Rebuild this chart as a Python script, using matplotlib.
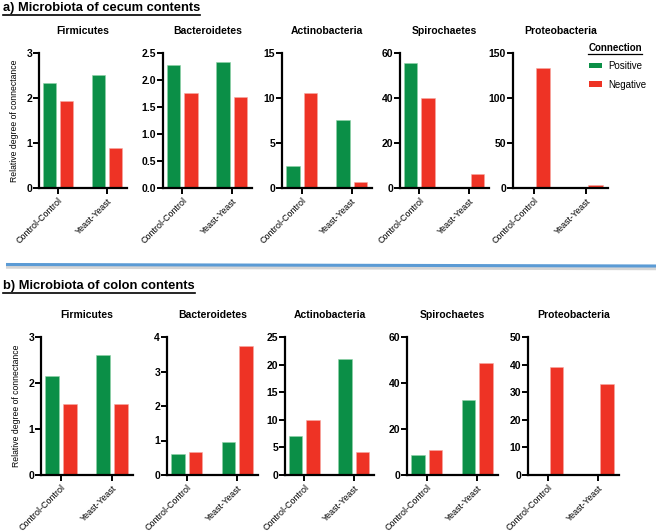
import matplotlib
matplotlib.use("Agg")
import matplotlib.pyplot as plt
import numpy as np
from matplotlib.lines import Line2D
from matplotlib.patches import Patch

# ── data ───────────────────────────────────────────────────────────
groups = ['Control-Control', 'Yeast-Yeast']
phyla = ['Firmicutes', 'Bacteroidetes', 'Actinobacteria', 'Spirochaetes', 'Proteobacteria']

# cecum (panel a): [Control-Control, Yeast-Yeast]
cecum_pos = [[2.33, 2.52], [2.27, 2.33], [2.4, 7.5], [55.5, 0.0], [0.0, 0.0]]
cecum_neg = [[1.93, 0.89], [1.75, 1.69], [10.55, 0.7], [40.0, 6.0], [133.0, 3.0]]
cecum_ymax = [3, 2.5, 15, 60, 150]
cecum_ystep = [1, 0.5, 5, 20, 50]

# colon (panel b)
colon_pos = [[2.15, 2.6], [0.62, 0.95], [7.1, 21.0], [8.5, 32.5], [0.0, 0.0]]
colon_neg = [[1.55, 1.55], [0.68, 3.75], [10.0, 4.2], [11.0, 48.5], [39.0, 33.0]]
colon_ymax = [3, 4, 25, 60, 50]
colon_ystep = [1, 1, 5, 20, 10]

GREEN = '#0b8f47'
RED = '#ee3325'
W, H = 660, 532

plt.rcParams['font.family'] = ['Liberation Sans', 'DejaVu Sans']

fig = plt.figure(figsize=(6.6, 5.32), dpi=100, facecolor='white')


def px_axes(left, right, top, bottom):
    return fig.add_axes([left / W, 1 - bottom / H, (right - left) / W, (bottom - top) / H])


def draw_row(lefts, rights, top, bottom, pos, neg, ymax, ystep):
    axes = []
    for i, name in enumerate(phyla):
        ax = px_axes(lefts[i], rights[i], top, bottom)
        x = np.arange(len(groups))
        ax.bar(x - 0.175, pos[i], width=0.27, color=GREEN, edgecolor='#8fd3a8', linewidth=0.4)
        ax.bar(x + 0.175, neg[i], width=0.27, color=RED, edgecolor='#f7a9a2', linewidth=0.4)
        ax.set_xlim(-0.39, 1.41)
        ax.set_ylim(0, ymax[i])
        ticks = np.arange(0, ymax[i] + ystep[i] / 2, ystep[i])
        ax.set_yticks(ticks)
        if ystep[i] < 1:
            ax.set_yticklabels([f'{t:.1f}' for t in ticks])
        else:
            ax.set_yticklabels([f'{t:g}' for t in ticks])
        ax.set_xticks(x)
        ax.set_xticklabels(groups, rotation=45, ha='right', rotation_mode='anchor', fontsize=6.5)
        ax.spines[['top', 'right']].set_visible(False)
        ax.spines[['left', 'bottom']].set_linewidth(1.6)
        ax.tick_params(axis='both', width=1.4, length=4, direction='out')
        ax.tick_params(axis='y', labelsize=7.5, pad=1)
        ax.tick_params(axis='x', pad=2)
        for lbl in ax.get_yticklabels():
            lbl.set_fontweight('bold')
        ax.set_title(name, fontsize=7.5, fontweight='bold', pad=14)
        axes.append(ax)
    axes[0].set_ylabel('Relative degree of connectance', fontsize=6.2, labelpad=5)
    return axes


top_axes = draw_row([39, 163, 282, 400, 513], [127, 252, 372, 489, 608], 53, 188,
                    cecum_pos, cecum_neg, cecum_ymax, cecum_ystep)
bot_axes = draw_row([41, 167, 285, 407, 528], [133, 258, 374, 498, 619], 337, 475,
                    colon_pos, colon_neg, colon_ymax, colon_ystep)

# section titles (underlined)
titles = []
titles.append(fig.text(3 / W, 1 - 8 / H, 'a) Microbiota of cecum contents',
                       fontsize=9.3, fontweight='bold', va='center', ha='left'))
titles.append(fig.text(3 / W, 1 - 286 / H, 'b) Microbiota of colon contents',
                       fontsize=9.3, fontweight='bold', va='center', ha='left'))

# legend
leg_title = fig.text(615 / W, 1 - 48 / H, 'Connection', fontsize=7, fontweight='bold',
                     ha='center', va='center')
titles.append(leg_title)
handles = [Patch(facecolor=GREEN, label='Positive'), Patch(facecolor=RED, label='Negative')]
fig.legend(handles=handles, loc='upper left', bbox_to_anchor=(584 / W, 1 - 56 / H),
           frameon=False, fontsize=7, handlelength=1.4, handleheight=0.5,
           handletextpad=0.6, labelspacing=0.9, borderpad=0)

fig.canvas.draw()
renderer = fig.canvas.get_renderer()
for t in titles:
    bb = t.get_window_extent(renderer)
    y = (bb.y0 - 0.5) / fig.bbox.height
    fig.add_artist(Line2D([bb.x0 / fig.bbox.width, bb.x1 / fig.bbox.width], [y, y],
                          color='black', linewidth=0.9 if t is leg_title else 1.2))

# blue separator line with soft shadow
fig.add_artist(Line2D([6 / W, 656 / W], [1 - 267 / H, 1 - 268.5 / H],
                      color='#d5d5d5', linewidth=2.5, solid_capstyle='butt'))
fig.add_artist(Line2D([6 / W, 656 / W], [1 - 264.5 / H, 1 - 266 / H],
                      color='#5b9bd5', linewidth=2.2, solid_capstyle='butt'))

plt.savefig('out.png', dpi=100, facecolor='white')
plt.close()
